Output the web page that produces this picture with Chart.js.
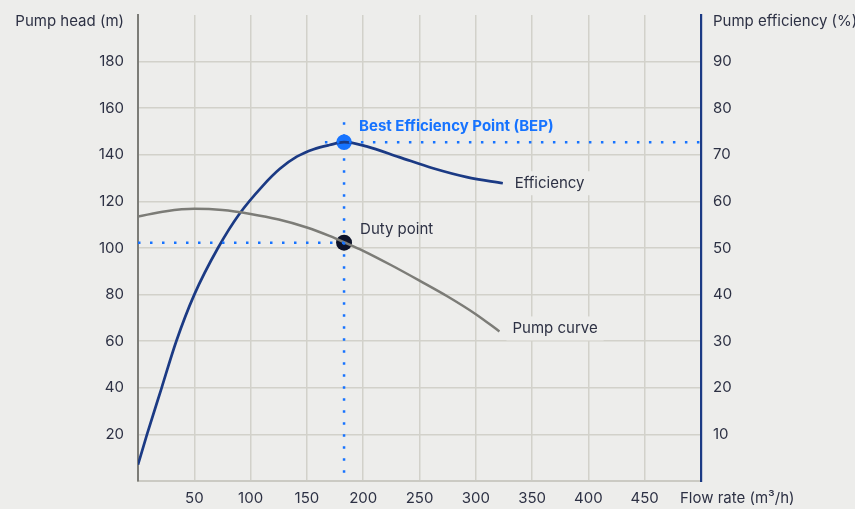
<!DOCTYPE html>
<html lang="en">
<head>
    <meta charset="UTF-8">
    <title>Pump curve</title>
    <script src="https://cdn.jsdelivr.net/npm/chart.js"></script>
    <style>
        body {
            margin: 0;
            padding: 0;
            background-color: #ededeb;
        }

        #pump-chart {
            display: block;
        }
    </style>
</head>
<body>
    <canvas id="pump-chart" width="855" height="509"></canvas>

    <script>
        // values
        const flowEff = [0, 8, 21, 34, 50, 71, 90, 111, 126, 141, 156, 170, 183, 203, 232, 262, 292, 324];
        const efficiency = [3.5, 10, 20, 30, 40, 50, 57.3, 63.4, 67, 69.6, 71.2, 72.1, 72.7, 71.8, 69.5, 67.1, 65.2, 63.9];
        const flowPump = [0, 25, 50, 75, 100, 125, 150, 170, 184, 200, 225, 250, 275, 300, 321];
        const pumpHead = [113.5, 115.8, 116.8, 116.3, 114.6, 112.2, 108.8, 105.2, 102.3, 98.8, 92.6, 86, 79.2, 71.6, 64.2];
        const bep = { flow: 183, eff: 72.7 };
        const duty = { flow: 183, head: 102.3 };

        const bg = '#ededeb';
        const gridColor = '#d2d1ca';
        const textColor = '#2d3144';
        const navy = '#1b3a84';
        const grey = '#7c7c77';
        const blue = '#1673ff';
        const font = 'Inter, "Noto Sans", sans-serif';

        function toPoints(xs, ys) {
            return xs.map((x, i) => ({ x: x, y: ys[i] }));
        }

        function noPad(scale) {
            scale.paddingTop = 0;
            scale.paddingBottom = 0;
        }

        const dotted = {
            borderColor: blue,
            borderWidth: 2.5,
            borderDash: [2.5, 9.5],
            pointRadius: 0,
            fill: false
        };

        // texts that are not ticks: axis titles and curve labels
        const labelsPlugin = {
            id: 'labels',
            afterDraw(chart) {
                const c = chart.ctx;
                const x = chart.scales.x;
                const y = chart.scales.y;
                const y1 = chart.scales.y1;
                c.save();
                c.textBaseline = 'middle';
                c.font = '15px ' + font;
                c.fillStyle = textColor;

                c.textAlign = 'right';
                c.fillText('Pump head (m)', 124, 21);
                c.textAlign = 'left';
                c.fillText('Pump efficiency (%)', 713, 21);
                c.fillText('Flow rate (m³/h)', 680, 498);

                function boxed(text, px, py) {
                    const w = c.measureText(text).width;
                    c.fillStyle = bg;
                    c.fillRect(px - 6, py - 12, w + 12, 24);
                    c.fillStyle = textColor;
                    c.fillText(text, px, py);
                }

                const effEnd = flowEff.length - 1;
                boxed('Efficiency', x.getPixelForValue(flowEff[effEnd]) + 12, y1.getPixelForValue(efficiency[effEnd]));
                const pumpEnd = flowPump.length - 1;
                boxed('Pump curve', x.getPixelForValue(flowPump[pumpEnd]) + 13, y.getPixelForValue(pumpHead[pumpEnd]) - 3);

                c.fillText('Duty point', x.getPixelForValue(duty.flow) + 16, y.getPixelForValue(duty.head) - 13);

                c.font = 'bold 15px ' + font;
                c.fillStyle = blue;
                c.fillText('Best Efficiency Point (BEP)', x.getPixelForValue(bep.flow) + 15, y1.getPixelForValue(bep.eff) - 16);
                c.restore();
            }
        };

        new Chart(document.getElementById('pump-chart'), {
            type: 'line',
            data: {
                datasets: [
                    Object.assign({ data: [{ x: 0, y: duty.head }, { x: duty.flow, y: duty.head }], yAxisID: 'y' }, dotted),
                    Object.assign({ data: [{ x: bep.flow, y: 154 }, { x: bep.flow, y: 0 }], yAxisID: 'y' }, dotted),
                    Object.assign({ data: [{ x: 166, y: bep.eff }, { x: 500, y: bep.eff }], yAxisID: 'y1' }, dotted),
                    {
                        data: toPoints(flowPump, pumpHead),
                        yAxisID: 'y',
                        borderColor: grey,
                        borderWidth: 2.5,
                        pointRadius: 0,
                        cubicInterpolationMode: 'monotone'
                    },
                    {
                        data: toPoints(flowEff, efficiency),
                        yAxisID: 'y1',
                        borderColor: navy,
                        borderWidth: 2.7,
                        pointRadius: 0,
                        cubicInterpolationMode: 'monotone'
                    },
                    {
                        data: [{ x: duty.flow, y: duty.head }],
                        yAxisID: 'y',
                        showLine: false,
                        pointRadius: 8,
                        pointBorderWidth: 0,
                        pointBackgroundColor: '#0c1229'
                    },
                    {
                        data: [{ x: bep.flow, y: bep.eff }],
                        yAxisID: 'y1',
                        showLine: false,
                        pointRadius: 7.8,
                        pointBorderWidth: 0,
                        pointBackgroundColor: blue
                    }
                ]
            },
            options: {
                responsive: false,
                animation: false,
                events: [],
                layout: { padding: { top: 15 } },
                plugins: {
                    legend: { display: false },
                    tooltip: { enabled: false }
                },
                scales: {
                    x: {
                        type: 'linear',
                        min: 0,
                        max: 500,
                        afterFit(scale) { scale.height = 28; },
                        ticks: {
                            stepSize: 50,
                            padding: 8,
                            color: textColor,
                            font: { family: font, size: 15 },
                            callback: v => (v === 0 || v === 500) ? '' : v
                        },
                        grid: {
                            drawTicks: false,
                            lineWidth: 1.5,
                            color: ctx => (ctx.tick && (ctx.tick.value === 0 || ctx.tick.value === 500)) ? 'transparent' : gridColor
                        },
                        border: { color: '#cbcac3', width: 2 }
                    },
                    y: {
                        position: 'left',
                        min: 0,
                        max: 200,
                        afterFit(scale) { scale.width = 138; noPad(scale); },
                        ticks: {
                            stepSize: 20,
                            padding: 14,
                            color: textColor,
                            font: { family: font, size: 15 },
                            callback: v => (v === 0 || v === 200) ? '' : v
                        },
                        grid: {
                            drawTicks: false,
                            lineWidth: 1.5,
                            color: ctx => (ctx.tick && (ctx.tick.value === 0 || ctx.tick.value === 200)) ? 'transparent' : gridColor
                        },
                        border: { color: grey, width: 2 }
                    },
                    y1: {
                        position: 'right',
                        min: 0,
                        max: 100,
                        afterFit(scale) { scale.width = 154; noPad(scale); },
                        ticks: {
                            stepSize: 10,
                            padding: 12,
                            color: textColor,
                            font: { family: font, size: 15 },
                            callback: v => (v === 0 || v === 100) ? '' : v
                        },
                        grid: { display: false, drawTicks: false },
                        border: { color: navy, width: 2.2 }
                    }
                }
            },
            plugins: [labelsPlugin]
        });
    </script>
</body>
</html>
